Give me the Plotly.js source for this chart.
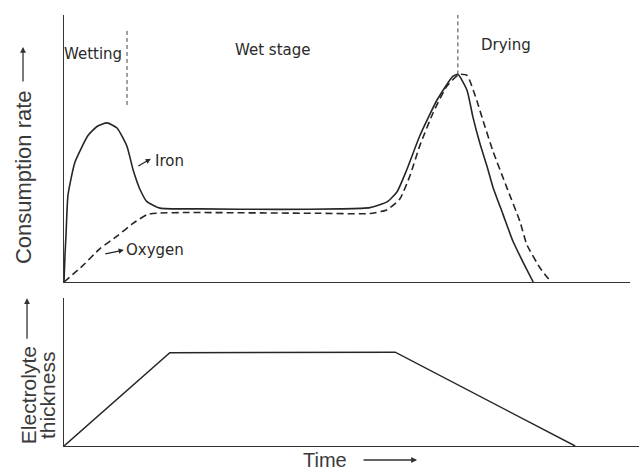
<!DOCTYPE html>
<html>
<head>
<meta charset="utf-8">
<script src="https://cdn.plot.ly/plotly-3.0.1.min.js"></script>
<style>html,body{margin:0;padding:0;background:#fff;}#chart{width:639px;height:471px;}</style>
</head>
<body>
<div id="chart"></div>
<script>
// ---- Data (arbitrary schematic units) ----
const ironTime = [0, 0.17, 0.35, 0.7, 1.9, 4.17, 5.74, 7.48, 9.22, 10.96, 12.0, 13.22, 14.43, 16.7, 23.65, 37.57, 48.0, 53.2, 56.2, 57.9, 59.65, 61.9, 64.9, 67.65, 68.5, 70.1, 71.1, 72.35, 73.6, 74.6, 76.35, 78.1, 79.8, 81.6];
const ironRate = [0, 10.4, 18.1, 33.6, 46.2, 56.5, 60.0, 61.4, 59.4, 52.3, 43.4, 35.7, 31.0, 28.5, 28.2, 28.0, 28.2, 28.7, 30.9, 34.7, 43.5, 56.5, 70.3, 79.4, 80.1, 73.9, 63.8, 53.3, 44.4, 36.6, 26.1, 15.6, 7.8, 0];

const oxygenTime = [0, 3.3, 6.26, 9.22, 12.0, 14.43, 16.7, 21.4, 44.5, 53.2, 56.2, 58.4, 60.2, 61.9, 64.2, 66.6, 68.7, 70.1, 71.8, 72.9, 74.6, 77.0, 79.3, 80.5, 82.8, 84.7];
const oxygenRate = [0, 6.4, 12.9, 17.7, 22.6, 26.0, 26.6, 26.8, 26.5, 26.4, 27.9, 32.0, 41.2, 52.7, 65.3, 75.6, 80.1, 79.7, 69.9, 62.1, 50.5, 36.5, 23.3, 14.4, 5.4, 0];

const thickTime = [0, 18.4, 57.6, 88.9];
const thickness = [0, 63.0, 63.4, 0];

// stage boundaries (time, rate extent)
const wettingEndTime = [10.96, 10.96];
const wettingEndRate = [68.3, 98.0];
const dryingStartTime = [68.5, 68.5];
const dryingStartRate = [80.1, 103];

const stageLabels = ["Wetting", "Wet stage", "Drying"];
const stageLabelTime = [5.1, 36.2, 76.9];
const stageLabelRate = [88.0, 89.5, 91.4];

const seriesNames = ["Iron", "Oxygen"];
const axisTitles = {top: "Consumption rate", bottom1: "Electrolyte", bottom2: "thickness", x: "Time"};

const ink = "#262626";
const labelFont = {family: "DejaVu Sans, sans-serif", size: 15, color: "#2a2a2a"};
const titleFont = {family: "Liberation Sans, Arial, sans-serif", size: 22, color: "#3a3a3a"};

const traces = [
  {x: ironTime, y: ironRate, xaxis: "x2", yaxis: "y2", mode: "lines", name: seriesNames[0],
   line: {color: ink, width: 1.6, shape: "spline", smoothing: 0.5}},
  {x: oxygenTime, y: oxygenRate, xaxis: "x2", yaxis: "y2", mode: "lines", name: seriesNames[1],
   line: {color: ink, width: 1.6, dash: "7px,4px", shape: "spline", smoothing: 0.5}},
  {x: wettingEndTime, y: wettingEndRate, xaxis: "x2", yaxis: "y2", mode: "lines",
   line: {color: "#444", width: 1, dash: "4px,3px"}},
  {x: dryingStartTime, y: dryingStartRate, xaxis: "x2", yaxis: "y2", mode: "lines",
   line: {color: "#444", width: 1, dash: "4px,3px"}},
  {x: thickTime, y: thickness, xaxis: "x", yaxis: "y", mode: "lines",
   line: {color: ink, width: 1.5}}
];

const C = {xanchor: "center", yanchor: "middle"};
const annotations = [];
stageLabels.forEach((s, i) => annotations.push(Object.assign({
  text: s, xref: "x2", yref: "y2", x: stageLabelTime[i], y: stageLabelRate[i],
  showarrow: false, font: labelFont
}, C)));
// series labels with leader arrows (head at the label)
annotations.push(Object.assign({text: seriesNames[0], xref: "x2", yref: "y2", x: 18.3, y: 46.7, showarrow: false, font: labelFont}, C));
annotations.push({text: "", xref: "x2", yref: "y2", x: 15.1, y: 47.5, ax: -14, ay: 8, showarrow: true,
  arrowhead: 2, arrowsize: 0.8, arrowwidth: 1.3, arrowcolor: ink});
annotations.push(Object.assign({text: seriesNames[1], xref: "x2", yref: "y2", x: 15.8, y: 12.3, showarrow: false, font: labelFont}, C));
annotations.push({text: "", xref: "x2", yref: "y2", x: 10.4, y: 12.3, ax: -20, ay: 4, showarrow: true,
  arrowhead: 2, arrowsize: 0.8, arrowwidth: 1.3, arrowcolor: ink});
// axis titles
annotations.push(Object.assign({text: axisTitles.top, xref: "paper", yref: "paper", x: -0.0713, y: 0.624,
  textangle: -90, showarrow: false, font: titleFont}, C));
annotations.push({text: "", xref: "paper", yref: "paper", x: -0.0713, y: 0.926, ax: 0, ay: 36,
  showarrow: true, arrowhead: 2, arrowsize: 0.9, arrowwidth: 1.3, arrowcolor: "#333"});
annotations.push(Object.assign({text: axisTitles.bottom1, xref: "paper", yref: "paper", x: -0.0626, y: 0.118,
  textangle: -90, showarrow: false, font: Object.assign({}, titleFont, {size: 21})}, C));
annotations.push({text: "", xref: "paper", yref: "paper", x: -0.0643, y: 0.343, ax: 0, ay: 42,
  showarrow: true, arrowhead: 2, arrowsize: 0.9, arrowwidth: 1.3, arrowcolor: "#333"});
annotations.push(Object.assign({text: axisTitles.bottom2, xref: "paper", yref: "paper", x: -0.0296, y: 0.118,
  textangle: -90, showarrow: false, font: Object.assign({}, titleFont, {size: 21})}, C));
annotations.push(Object.assign({text: axisTitles.x, xref: "paper", yref: "paper", x: 0.454, y: -0.0325,
  showarrow: false, font: Object.assign({}, titleFont, {size: 20})}, C));
annotations.push({text: "", xref: "paper", yref: "paper", x: 0.614, y: -0.0325, ax: -55, ay: 0,
  showarrow: true, arrowhead: 2, arrowsize: 0.9, arrowwidth: 1.3, arrowcolor: "#333"});

const axBase = {showgrid: false, zeroline: false, showticklabels: false, ticks: "",
  showline: true, linecolor: "#333", linewidth: 1.3, fixedrange: true};

const layout = {
  width: 639, height: 471,
  margin: {l: 64, r: 0, t: 15, b: 25},
  paper_bgcolor: "#fff", plot_bgcolor: "rgba(0,0,0,0)",
  showlegend: false, hovermode: false,
  xaxis: Object.assign({}, axBase, {domain: [0, 1], range: [0, 100], anchor: "y"}),
  yaxis: Object.assign({}, axBase, {domain: [0, 0.3434], range: [0, 100], anchor: "x"}),
  xaxis2: Object.assign({}, axBase, {domain: [0, 0.984], range: [0, 98.4], anchor: "y2"}),
  yaxis2: Object.assign({}, axBase, {domain: [0.3805, 1], range: [0, 103], anchor: "x2"}),
  annotations: annotations
};

Plotly.newPlot("chart", traces, layout, {staticPlot: true, displayModeBar: false});
</script>
</body>
</html>
